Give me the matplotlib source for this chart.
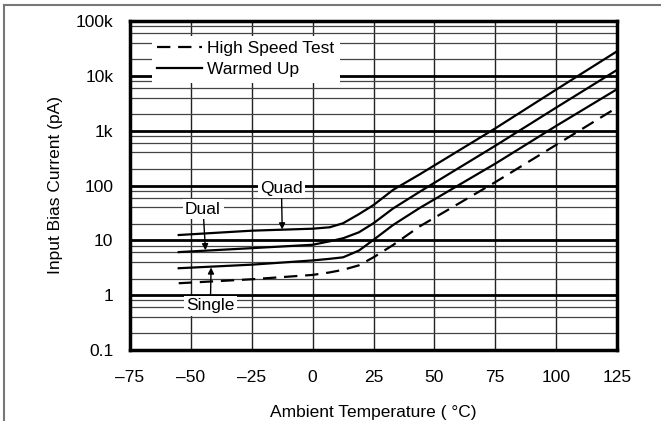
import matplotlib
matplotlib.use('Agg')
import matplotlib.pyplot as plt
from matplotlib.ticker import LogLocator, NullFormatter
from matplotlib.lines import Line2D

plt.rcParams['font.family'] = ['Liberation Sans', 'DejaVu Sans']

# 溫度 (°C)
temp = [-55, -25, 0, 7, 12.5, 19, 25, 33, 44, 75, 100, 125]
quad = [12.5, 15, 16.3, 17.3, 20.5, 30, 44, 83, 160, 1100, 5600, 28000]
dual = [6.1, 7.2, 8.3, 9.6, 10.9, 14, 20.5, 38, 77, 530, 2630, 12800]
single = [3.1, 3.6, 4.3, 4.6, 4.9, 6.5, 10.2, 19, 39, 250, 1220, 5700]
hst_temp = [-55, -25, 0, 7, 12.5, 19, 25, 33, 44, 75, 100, 123]
hst = [1.65, 1.95, 2.34, 2.6, 2.9, 3.5, 4.9, 8.2, 18, 115, 550, 2330]

xticks = [-75, -50, -25, 0, 25, 50, 75, 100, 125]
xticklabels = ['\u201375', '\u201350', '\u201325', '0', '25', '50', '75', '100', '125']
yticks = [0.1, 1, 10, 100, 1000, 10000, 100000]
yticklabels = ['0.1', '1', '10', '100', '1k', '10k', '100k']

fs = 12.5

fig = plt.figure(figsize=(6.61, 4.21), dpi=100)
ax = fig.add_axes([130 / 661, (421 - 350) / 421, 487 / 661, 329 / 421])

# 外框線
fig.add_artist(Line2D([4 / 661, 1], [1 - 5 / 421, 1 - 5 / 421], color='#777777', lw=1.5))
fig.add_artist(Line2D([4 / 661, 4 / 661], [0, 1 - 5 / 421], color='#777777', lw=1.5))

ax.set_yscale('log')
ax.set_xlim(-75, 125)
ax.set_ylim(0.1, 100000)
ax.set_xticks(xticks)
ax.set_xticklabels(xticklabels)
ax.set_yticks(yticks)
ax.set_yticklabels(yticklabels)
ax.yaxis.set_minor_locator(LogLocator(base=10, subs=[2, 4, 6, 8], numticks=20))
ax.yaxis.set_minor_formatter(NullFormatter())
ax.tick_params(which='both', length=0, labelsize=fs)
ax.tick_params(axis='x', pad=14.5)
ax.tick_params(axis='y', pad=12)

ax.grid(which='major', axis='y', color='k', lw=2)
ax.grid(which='minor', axis='y', color='#444444', lw=0.9)
ax.grid(which='major', axis='x', color='#222222', lw=1)
ax.set_axisbelow(True)
for s in ax.spines.values():
    s.set_linewidth(2.5)

ax.plot(hst_temp, hst, color='k', lw=1.6, dashes=(6, 3.5), label='High Speed Test', zorder=3)
ax.plot(temp, quad, color='k', lw=1.6, label='Warmed Up', zorder=3)
ax.plot(temp, dual, color='k', lw=1.6, zorder=3)
ax.plot(temp, single, color='k', lw=1.6, zorder=3)

ap = dict(arrowstyle='-|>', color='k', lw=1, mutation_scale=9, shrinkA=0, shrinkB=0)
bb = dict(boxstyle='square,pad=0.15', fc='white', ec='none')
ax.annotate('Quad', xy=(-12.5, 15.8), xytext=(-12.8, 89), ha='center', va='center',
            fontsize=fs, bbox=bb, arrowprops=ap, zorder=4)
ax.annotate('Dual', xy=(-44, 6.6), xytext=(-45, 37), ha='center', va='center',
            fontsize=fs, bbox=bb, arrowprops=ap, zorder=4)
ax.annotate('Single', xy=(-41.7, 3.2), xytext=(-42, 0.64), ha='center', va='center',
            fontsize=fs, bbox=bb, arrowprops=ap, zorder=4)

leg = ax.legend(loc='upper left', bbox_to_anchor=(0.045, 0.955), fontsize=fs,
                frameon=True, fancybox=False, edgecolor='none', facecolor='white',
                framealpha=1, handlelength=2.6, handletextpad=0.3, labelspacing=0.35,
                borderpad=0.3, borderaxespad=0)

ax.set_xlabel('Ambient Temperature ( °C)', fontsize=fs, labelpad=14)
ax.set_ylabel('Input Bias Current (pA)', fontsize=fs, labelpad=9)

fig.savefig('out.png', dpi=100)
